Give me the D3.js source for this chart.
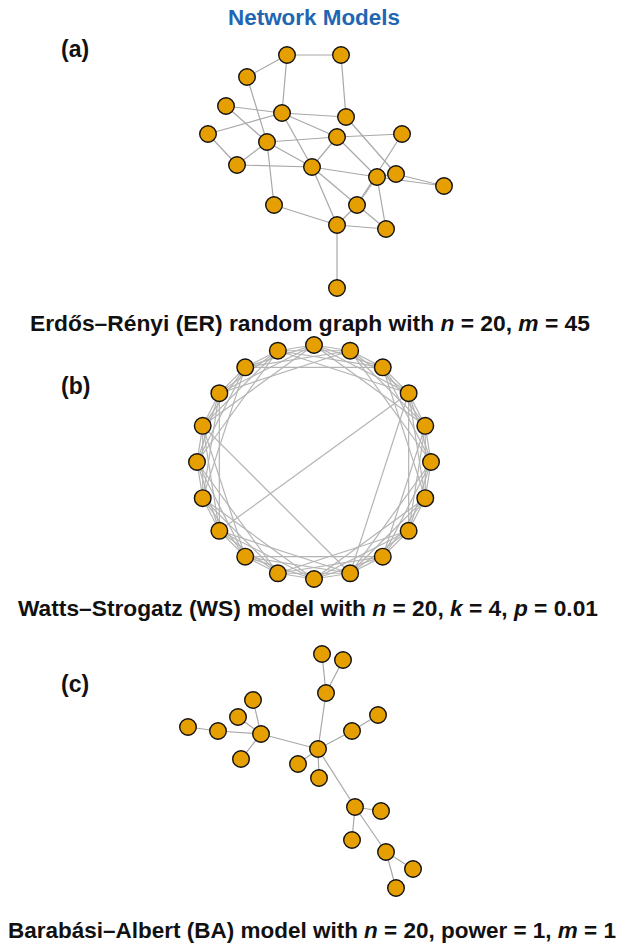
<!DOCTYPE html>
<html>
  <head>
    <style>
    body {
      font-family: "Liberation Sans", Arial, sans-serif;
      margin: 0;
      background: #fff;
    }
    </style>
  </head>
  <body>
    <script src="https://d3js.org/d3.v7.min.js"></script>
    <script>
    var width = 622, height = 944;

    // (a) Erdos-Renyi layout coordinates
    var erNodes = [[287,55],[341,55],[247,77],[226,106],[282,113],[346,117],[208,134],[267,142],
                   [337,137],[402,134],[237,165],[312,167],[377,177],[396,174],[444,186],[274,205],
                   [357,205],[337,225],[386,229],[337,288]];
    var erEdges = [[0,1],[0,2],[0,4],[1,5],[2,7],[3,4],[3,7],[4,5],[4,6],[4,8],[4,11],[5,13],
                   [6,10],[7,8],[7,10],[7,11],[7,15],[8,9],[8,11],[8,12],[9,16],[10,11],[11,12],
                   [11,16],[11,17],[12,14],[13,14],[12,16],[12,18],[15,17],[16,17],[16,18],
                   [17,18],[17,19],[12,13]];

    // (b) Watts-Strogatz ring lattice
    var wsN = 20, wsK = 4;
    var wsRewired = [[3,13],[16,9],[3,9]];

    // (c) Barabasi-Albert layout coordinates
    var baNodes = [[322,654],[343,660],[326,693],[253,700],[238,717],[188,727],[218,731],[261,734],
                   [241,759],[318,749],[352,731],[378,715],[298,764],[319,778],[355,807],[381,811],
                   [352,840],[386,852],[413,869],[396,888]];
    var baEdges = [[0,2],[1,2],[2,9],[3,7],[4,7],[5,6],[6,7],[8,7],[7,9],[10,9],[11,10],[12,9],
                   [13,9],[14,9],[15,14],[16,14],[17,14],[18,17],[19,17]];

    var title = "Network Models";
    var panelLabels = ["(a)", "(b)", "(c)"];
    var captions = [
      [["Erdős–Rényi (ER) random graph with ", 0], ["n", 1], [" = 20, ", 0], ["m", 1], [" = 45", 0]],
      [["Watts–Strogatz (WS) model with ", 0], ["n", 1], [" = 20, ", 0], ["k", 1], [" = 4, ", 0], ["p", 1], [" = 0.01", 0]],
      [["Barabási–Albert (BA) model with ", 0], ["n", 1], [" = 20, power = 1, ", 0], ["m", 1], [" = 1", 0]]
    ];

    var nodeFill = "#E69F00", edgeColor = "#a8a8a8";

    var svg = d3.select("body").append("svg")
        .attr("width", width)
        .attr("height", height);

    function drawGraph(nodes, edges, xRange, yRange, edgeCol) {
      var x = d3.scaleLinear().domain(d3.extent(nodes, function(d){ return d[0]; })).range(xRange);
      var y = d3.scaleLinear().domain(d3.extent(nodes, function(d){ return d[1]; })).range(yRange);
      var g = svg.append("g");
      g.selectAll("line").data(edges).enter().append("line")
          .attr("x1", function(e){ return x(nodes[e[0]][0]); })
          .attr("y1", function(e){ return y(nodes[e[0]][1]); })
          .attr("x2", function(e){ return x(nodes[e[1]][0]); })
          .attr("y2", function(e){ return y(nodes[e[1]][1]); })
          .attr("stroke", edgeCol || edgeColor)
          .attr("stroke-width", 1.2);
      g.selectAll("circle").data(nodes).enter().append("circle")
          .attr("cx", function(d){ return x(d[0]); })
          .attr("cy", function(d){ return y(d[1]); })
          .attr("r", 8.3)
          .attr("fill", nodeFill)
          .attr("stroke", "#111")
          .attr("stroke-width", 1.4);
    }

    drawGraph(erNodes, erEdges, [208, 444], [55, 288]);

    // ring layout for WS
    var angle = d3.scaleLinear().domain([0, wsN]).range([-Math.PI / 2, 1.5 * Math.PI]);
    var wsNodes = d3.range(wsN).map(function(i){ return [Math.cos(angle(i)), Math.sin(angle(i))]; });
    var wsEdges = [];
    d3.range(wsN).forEach(function(i){
      d3.range(1, wsK + 1).forEach(function(d){ wsEdges.push([i, (i + d) % wsN]); });
    });
    wsEdges = wsEdges.concat(wsRewired);
    drawGraph(wsNodes, wsEdges, [197, 431], [345, 579], "#b4b4b4");

    drawGraph(baNodes, baEdges, [188, 413], [654, 888]);

    svg.append("text")
        .attr("x", 314).attr("y", 25)
        .attr("text-anchor", "middle")
        .attr("font-size", 22)
        .attr("font-weight", "bold")
        .attr("fill", "#1f66b3")
        .attr("textLength", 172)
        .attr("lengthAdjust", "spacingAndGlyphs")
        .text(title);

    var labelY = [57, 394, 692];
    svg.selectAll(".plabel").data(panelLabels).enter().append("text")
        .attr("class", "plabel")
        .attr("x", 61)
        .attr("y", function(d, i){ return labelY[i]; })
        .attr("font-size", 23)
        .attr("font-weight", "bold")
        .attr("fill", "#111")
        .text(function(d){ return d; });

    var capY = [331, 616, 938];
    var capX = [[30, 590], [18, 598], [8, 616]];
    captions.forEach(function(parts, i){
      var t = svg.append("text")
          .attr("x", capX[i][0]).attr("y", capY[i])
          .attr("font-size", 22.5)
          .attr("font-weight", "bold")
          .attr("fill", "#111")
          .attr("textLength", capX[i][1] - capX[i][0])
          .attr("lengthAdjust", "spacingAndGlyphs");
      parts.forEach(function(p){
        t.append("tspan")
            .attr("font-style", p[1] ? "italic" : null)
            .text(p[0]);
      });
    });
    </script>
  </body>
</html>
